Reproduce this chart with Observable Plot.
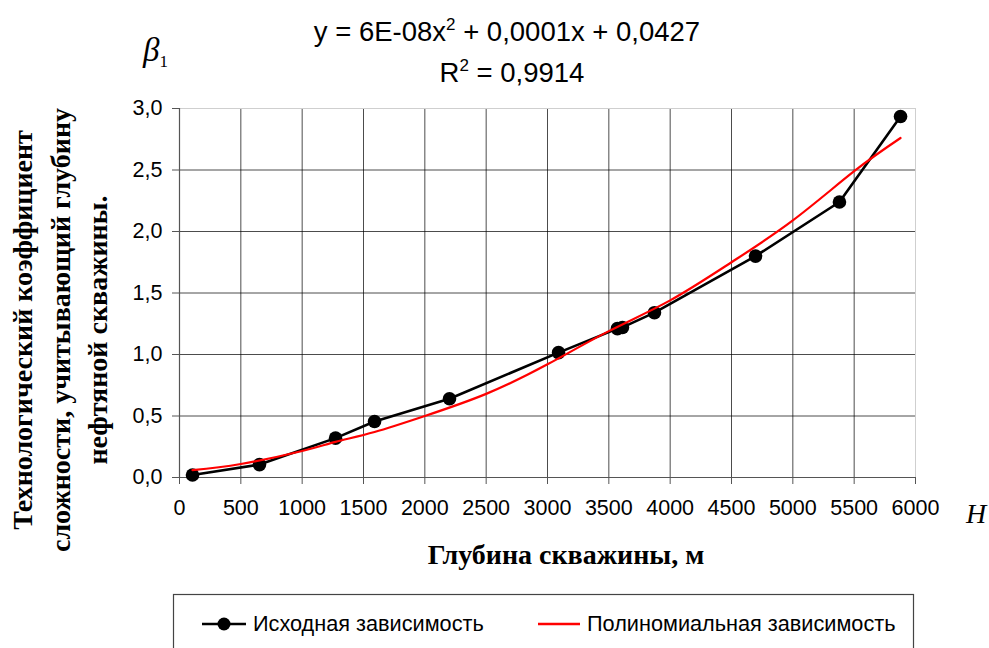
<!DOCTYPE html>
<html><head><meta charset="utf-8">
<script src="https://cdn.jsdelivr.net/npm/d3@7"></script>
<script src="https://cdn.jsdelivr.net/npm/@observablehq/plot@0.6"></script>
<style>body{margin:0;background:#fff}</style>
</head><body><div id="chart"></div>
<script>
// Исходная зависимость (original data)
const depth = [106, 652, 1272, 1590, 2201, 3090, 3570, 3611, 3872, 4696, 5380, 5878];
const beta  = [0.02, 0.105, 0.32, 0.455, 0.64, 1.015, 1.21, 1.22, 1.34, 1.80, 2.24, 2.935];
// Полиномиальная зависимость (trend line)
const trendDepth = [106, 500, 1000, 1272, 1590, 2000, 2500, 3000, 3500, 4000, 4500, 5000, 5500, 5878];
const trendBeta  = [0.06, 0.11, 0.215, 0.29, 0.37, 0.50, 0.68, 0.92, 1.19, 1.44, 1.75, 2.09, 2.49, 2.76];
const xTicks = [0, 500, 1000, 1500, 2000, 2500, 3000, 3500, 4000, 4500, 5000, 5500, 6000];
const yTicks = [0, 0.5, 1, 1.5, 2, 2.5, 3];
const equationText = "y = 6E-08x";
const equationRest = " + 0,0001x + 0,0427";
const r2Text = "R";
const r2Rest = " = 0,9914";
const yLabelLines = ["Технологический коэффициент", "сложности, учитывающий глубину", "нефтяной скважины."];
const xLabel = "Глубина скважины, м";
const legendLabels = ["Исходная зависимость", "Полиномиальная зависимость"];

const orig = depth.map((d, i) => ({x: d, y: beta[i]}));
const trend = trendDepth.map((d, i) => ({x: d, y: trendBeta[i]}));
const fmtY = d => d.toFixed(1).replace(".", ",");
const fmtX = d => String(d);

const sans = "'Liberation Sans', Arial, sans-serif";
const serif = "'Liberation Serif', 'Times New Roman', serif";

const chart = Plot.plot({
  width: 989, height: 648,
  marginLeft: 179, marginRight: 74, marginTop: 108, marginBottom: 171,
  style: {fontFamily: sans, background: "#fff", color: "#000"},
  x: {domain: [0, 6000]},
  y: {domain: [0, 3]},
  marks: [
    Plot.gridX(xTicks.slice(1, -1), {stroke: "#000", strokeOpacity: 0.7, strokeWidth: 1}),
    Plot.gridY(yTicks.slice(1, -1), {stroke: "#000", strokeOpacity: 0.7, strokeWidth: 1}),
    Plot.ruleX([6000], {stroke: "#cfcfcf"}),
    Plot.ruleY([3], {stroke: "#cfcfcf"}),
    Plot.ruleX([0], {stroke: "#555", strokeWidth: 1.2}),
    Plot.ruleY([0], {stroke: "#555", strokeWidth: 1.2}),
    Plot.axisX(xTicks, {tickSize: 7, tickPadding: 15, label: null, tickFormat: fmtX, stroke: "#555"}),
    Plot.axisY(yTicks, {tickSize: 7, tickPadding: 10, label: null, tickFormat: fmtY, stroke: "#555"}),
    Plot.line(orig, {x: "x", y: "y", stroke: "#000", strokeWidth: 2.6}),
    Plot.dot(orig, {x: "x", y: "y", r: 6.8, fill: "#000"}),
    Plot.line(trend, {x: "x", y: "y", stroke: "#ff0000", strokeWidth: 2.2, curve: "natural"})
  ]
});
document.getElementById("chart").append(chart);

const svg = d3.select(chart);
// at this point the only text elements are the axis tick labels
svg.selectAll("text").style("font-size", "21.5px").attr("fill", "#000");

function addText(x, y, anchor, family, size) {
  return svg.append("text").attr("x", x).attr("y", y).attr("text-anchor", anchor)
    .style("font-family", family).style("font-size", size + "px").attr("fill", "#000");
}

// equation
const eq = addText(507, 41, "middle", sans, 27.5);
eq.append("tspan").text(equationText);
eq.append("tspan").text("2").attr("dy", -11).style("font-size", "17px");
eq.append("tspan").text(equationRest).attr("dy", 11);
const r2 = addText(512, 82, "middle", sans, 27.5);
r2.append("tspan").text(r2Text);
r2.append("tspan").text("2").attr("dy", -11).style("font-size", "17px");
r2.append("tspan").text(r2Rest).attr("dy", 11);

// beta_1
const b = addText(143, 61, "start", serif, 33);
b.append("tspan").text("β").style("font-style", "italic");
b.append("tspan").text("1").attr("dy", 6).style("font-size", "17px");

// H
addText(966, 523, "start", serif, 28).style("font-style", "italic").text("H");

// x label
addText(566, 564, "middle", serif, 28).style("font-weight", "bold").text(xLabel);

// y label
const ylx = [32, 70, 107];
yLabelLines.forEach((t, i) => {
  svg.append("text").attr("transform", `translate(${ylx[i]},330) rotate(-90)`).attr("text-anchor", "middle").text(t)
    .style("font-family", serif).style("font-size", "28px").style("font-weight", "bold").attr("fill", "#000");
});

// legend
const lg = svg.append("g");
lg.append("rect").attr("x", 173.5).attr("y", 594.5).attr("width", 740).attr("height", 70)
  .attr("fill", "none").attr("stroke", "#444").attr("stroke-width", 1.2);
lg.append("line").attr("x1", 202).attr("x2", 246).attr("y1", 624).attr("y2", 624).attr("stroke", "#000").attr("stroke-width", 2.6);
lg.append("circle").attr("cx", 224).attr("cy", 624).attr("r", 6.5).attr("fill", "#000");
addText(253, 631, "start", sans, 21.7).text(legendLabels[0]);
lg.append("line").attr("x1", 538).attr("x2", 580).attr("y1", 624).attr("y2", 624).attr("stroke", "#ff0000").attr("stroke-width", 2.6);
addText(587, 631, "start", sans, 21.7).text(legendLabels[1]);
</script>
</body></html>
